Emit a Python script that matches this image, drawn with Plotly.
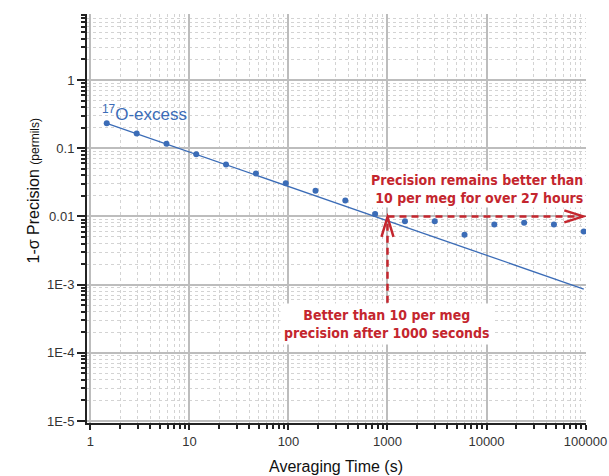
import numpy as np
import plotly.graph_objects as go

# ---- data ----
averaging_time_s = [1.46, 2.93, 5.86, 11.7, 23.4, 46.9, 93.8, 187.5, 375, 750,
                    1500, 3000, 6000, 12000, 24000, 48000, 96000]
precision_permil = [0.232, 0.164, 0.116, 0.0817, 0.0575, 0.0425, 0.0307, 0.0238,
                    0.0171, 0.0108, 0.0085, 0.0085, 0.0054, 0.0076, 0.0081,
                    0.0076, 0.0060]
fit_time_s = [1.46, 96000]
fit_precision = [0.232, 0.00086]

x_tick_vals = [1, 10, 100, 1000, 10000, 100000]
x_tick_text = ["1", "10", "100", "1000", "10000", "100000"]
y_tick_vals = [1, 0.1, 0.01, 1e-3, 1e-4, 1e-5]
y_tick_text = ["1", "0.1", "0.01", "1E-3", "1E-4", "1E-5"]

BLUE = "#3b6cb7"
RED = "#c4262e"
NARROW = "Liberation Sans Narrow, Arial Narrow, DejaVu Sans Condensed, sans-serif"
SANS = "Liberation Sans, Arial, Helvetica, sans-serif"

W, H = 609, 476
ML, MT, PW, PH = 87, 14, 499, 409

def minor_vals(lo, hi):
    out = []
    for e in range(lo, hi):
        for m in range(2, 10):
            out.append(m * 10.0 ** e)
    return out

fig = go.Figure()
fig.add_trace(go.Scatter(x=fit_time_s, y=fit_precision, mode="lines",
                         line=dict(color=BLUE, width=1.3), hoverinfo="skip",
                         showlegend=False))
fig.add_trace(go.Scatter(x=averaging_time_s, y=precision_permil, mode="markers",
                         marker=dict(color=BLUE, size=6), showlegend=False))

# dashed arrows
fig.add_trace(go.Scatter(x=[1000, 94000], y=[0.01, 0.01], mode="lines",
                         line=dict(color=RED, width=2.5, dash="7px,5px"),
                         hoverinfo="skip", showlegend=False))
fig.add_trace(go.Scatter(x=[1000, 1000], y=[5.4e-4, 0.0098], mode="lines",
                         line=dict(color=RED, width=2.5, dash="7px,5px"),
                         hoverinfo="skip", showlegend=False))
# chevron heads (pixel-sized shapes anchored in data space)
fig.add_shape(type="path", xref="x", yref="y", xsizemode="pixel", ysizemode="pixel",
              xanchor=95000, yanchor=0.01, path="M -19,-6 L 0,0 L -19,6",
              line=dict(color=RED, width=2.5))
fig.add_shape(type="path", xref="x", yref="y", xsizemode="pixel", ysizemode="pixel",
              xanchor=1000, yanchor=0.0098, path="M -6,-20 L 0,0 L 6,-20",
              line=dict(color=RED, width=2.5))

fig.add_annotation(x=3.9, y=-1.598, xref="x", yref="y",
                   text="Precision remains better than<br>10 per meg for over 27 hours",
                   showarrow=False, align="right", bgcolor="white", borderpad=1,
                   font=dict(family=NARROW, size=14, color=RED, weight="bold"))
fig.add_annotation(x=3.0, y=-3.578, xref="x", yref="y",
                   text="Better than 10 per meg<br>precision after 1000 seconds",
                   showarrow=False, align="center", bgcolor="white", borderpad=3,
                   font=dict(family=NARROW, size=14, color=RED, weight="bold"))
fig.add_annotation(x=0.55, y=-0.484, xref="x", yref="y",
                   text="<sup>17</sup>O-excess", showarrow=False,
                   font=dict(family=SANS, size=17, color=BLUE))

# axis titles
fig.add_annotation(xref="paper", yref="paper", x=(22 - ML) / PW, y=(MT + PH - 191) / PH,
                   text="1-σ Precision <span style='font-size:12px'>(permils)</span>",
                   textangle=-90, showarrow=False,
                   font=dict(family=SANS, size=16, color="#111"))
fig.add_annotation(xref="paper", yref="paper", x=(336 - ML) / PW, y=-(466 - MT - PH) / PH,
                   yanchor="middle", text="Averaging Time (s)", showarrow=False,
                   font=dict(family=SANS, size=16, color="#111"))

grid_major = "#bdbdbd"
grid_minor = "#d3d3d3"

fig.update_xaxes(type="log", range=[-0.035, 5.005], tickmode="array",
                 tickvals=x_tick_vals, ticktext=x_tick_text, automargin=False,
                 ticks="outside", ticklen=5, tickwidth=1.5, tickcolor="#222",
                 showline=True, linecolor="#222", linewidth=2,
                 showgrid=True, gridcolor=grid_major, gridwidth=1.5,
                 tickfont=dict(family=SANS, size=13, color="#333"),
                 minor=dict(tickmode="array", tickvals=minor_vals(0, 5), ticks="outside",
                            ticklen=4, tickwidth=1.5, tickcolor="#222", showgrid=True,
                            gridcolor=grid_minor, griddash="dot", gridwidth=1),
                 zeroline=False)
fig.update_yaxes(type="log", range=[-5.03, 0.968], tickmode="array",
                 tickvals=y_tick_vals, ticktext=y_tick_text, automargin=False,
                 ticks="outside", ticklen=8, tickwidth=1.5, tickcolor="#222",
                 showline=True, linecolor="#222", linewidth=2,
                 showgrid=True, gridcolor=grid_major, gridwidth=1.5,
                 tickfont=dict(family=SANS, size=13, color="#333"),
                 minor=dict(tickmode="array", tickvals=minor_vals(-5, 1), ticks="outside",
                            ticklen=4, tickwidth=1.5, tickcolor="#222", showgrid=True,
                            gridcolor=grid_minor, griddash="dot", gridwidth=1),
                 zeroline=False)

fig.update_layout(width=W, height=H,
                  margin=dict(l=ML, r=W - ML - PW, t=MT, b=H - MT - PH),
                  plot_bgcolor="white", paper_bgcolor="white", showlegend=False)

fig.write_html("out.html", config={"displayModeBar": False},
               post_script="document.body.style.margin='0';"
                           "document.body.style.overflow='hidden';")
